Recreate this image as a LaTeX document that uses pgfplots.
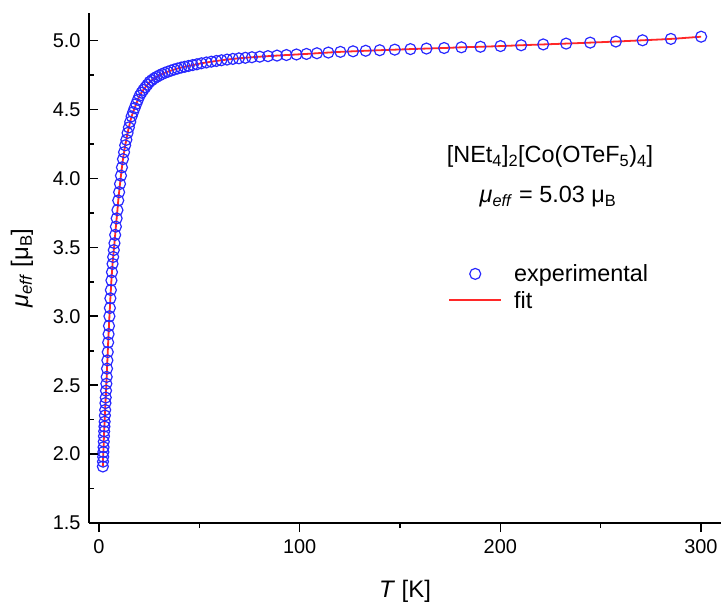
\documentclass[border=0pt]{standalone}
\usepackage{pgfplots}
\usepackage{pgfplotstable}
\pgfplotsset{compat=1.18}
\usepackage{fontspec}
\setmainfont{Liberation Sans}
\definecolor{expblue}{RGB}{40,40,255}
\definecolor{fitred}{RGB}{255,40,40}
\pgfplotstableread{
T mu
1.90 1.91
1.98 1.945
2.07 1.98
2.16 2.015
2.26 2.05
2.36 2.09
2.46 2.13
2.57 2.165
2.68 2.20
2.80 2.235
2.93 2.28
3.06 2.32
3.20 2.37
3.34 2.41
3.49 2.46
3.65 2.51
3.81 2.56
3.98 2.62
4.16 2.68
4.35 2.74
4.55 2.81
4.75 2.87
4.96 2.93
5.18 3.00
5.41 3.06
5.65 3.13
5.90 3.19
6.17 3.26
6.45 3.32
6.74 3.38
7.04 3.43
7.36 3.48
7.69 3.53
8.04 3.59
8.40 3.65
8.78 3.71
9.17 3.77
9.58 3.84
10.01 3.90
10.46 3.96
10.93 4.02
11.42 4.08
11.93 4.14
12.47 4.19
13.03 4.24
13.62 4.28
14.23 4.33
14.87 4.37
15.54 4.41
16.24 4.45
16.97 4.48
17.73 4.51
18.53 4.54
19.36 4.57
20.23 4.60
21.14 4.622
22.09 4.642
23.08 4.661
24.12 4.68
25.21 4.70
26.34 4.713
27.53 4.726
28.77 4.737
30.06 4.747
31.41 4.757
32.82 4.766
34.30 4.774
35.84 4.782
37.45 4.79
39.14 4.797
40.90 4.804
42.74 4.81
44.66 4.816
46.67 4.822
48.77 4.828
51.0 4.835
53.5 4.841
56.0 4.847
58.5 4.852
61.0 4.857
63.8 4.862
66.7 4.867
69.7 4.871
72.9 4.875
76.2 4.879
80.1 4.883
84.2 4.887
88.7 4.891
93.4 4.895
98.4 4.899
103.4 4.903
108.6 4.908
114.3 4.913
120.3 4.918
126.6 4.922
132.9 4.926
139.9 4.930
147.4 4.934
155.2 4.938
163.2 4.942
172.0 4.946
180.6 4.951
190.1 4.955
200.1 4.960
210.4 4.966
221.4 4.972
232.8 4.978
244.8 4.985
257.6 4.993
270.9 5.002
285.0 5.012
300.1 5.028
}\data
\begin{document}
\begin{tikzpicture}
\path[use as bounding box] (0,0) rectangle (721bp,603bp);
\begin{axis}[
  at={(89bp,80bp)}, anchor=south west,
  scale only axis, width=632bp, height=510bp,
  xmin=-5, xmax=310, ymin=1.5, ymax=5.2,
  axis x line*=bottom, axis y line*=left,
  axis line style={line width=1.6bp, black},
  xtick={0,100,200,300},
  ytick={1.5,2.0,2.5,3.0,3.5,4.0,4.5,5.0},
  minor x tick num=1, minor y tick num=1,
  tick align=inside,
  major tick length=9bp, minor tick length=5bp,
  tick style={line width=1.6bp, black},
  major x tick style={yshift=-9bp},
  minor x tick style={yshift=-5bp},
  /pgf/number format/assume math mode=true,
  yticklabel style={/pgf/number format/fixed, /pgf/number format/fixed zerofill, /pgf/number format/precision=1, xshift=-5bp},
  xticklabel style={yshift=-13bp},
  ticklabel style={font=\fontsize{20}{24}\selectfont},
  xlabel={\textit{T} [K]},
  ylabel={\textit{μ}\textsubscript{\textit{eff}} [μ\textsubscript{B}]},
  label style={font=\fontsize{24}{28}\selectfont},
  xlabel style={at={(axis description cs:0.5,-0.1333)}, anchor=center},
  ylabel style={at={(axis description cs:-0.106,0.5)}, anchor=center},
  legend image code/.code={\draw[mark repeat=2,mark phase=2,#1] plot coordinates {(0bp,0bp) (26bp,0bp) (52bp,0bp)};},
  legend style={draw=none, fill=none, at={(axis cs:174,3.39)}, anchor=north west,
    font=\fontsize{23.5}{28}\selectfont, inner sep=0pt, row sep=4bp,
    /tikz/every odd column/.append style={column sep=10bp}},
  legend cell align=left,
  clip=false,
]
\addplot[only marks, mark=o, mark size=5.5bp, color=expblue, mark options={line width=1.2bp}] table[x=T, y=mu] {\data};
\addlegendentry{experimental}
\addplot[color=fitred, line width=1.8bp, smooth, no marks] table[x=T, y=mu] {\data};
\addlegendentry{fit}
\node[font=\fontsize{23.5}{28}\selectfont] at (axis cs:224.8,4.158) {[NEt\textsubscript{4}]\textsubscript{2}[Co(OTeF\textsubscript{5})\textsubscript{4}]};
\node[font=\fontsize{23.5}{28}\selectfont] at (axis cs:223.8,3.867) {\textit{μ}\textsubscript{\textit{eff}} = 5.03 μ\textsubscript{B}};
\end{axis}
\end{tikzpicture}
\end{document}
